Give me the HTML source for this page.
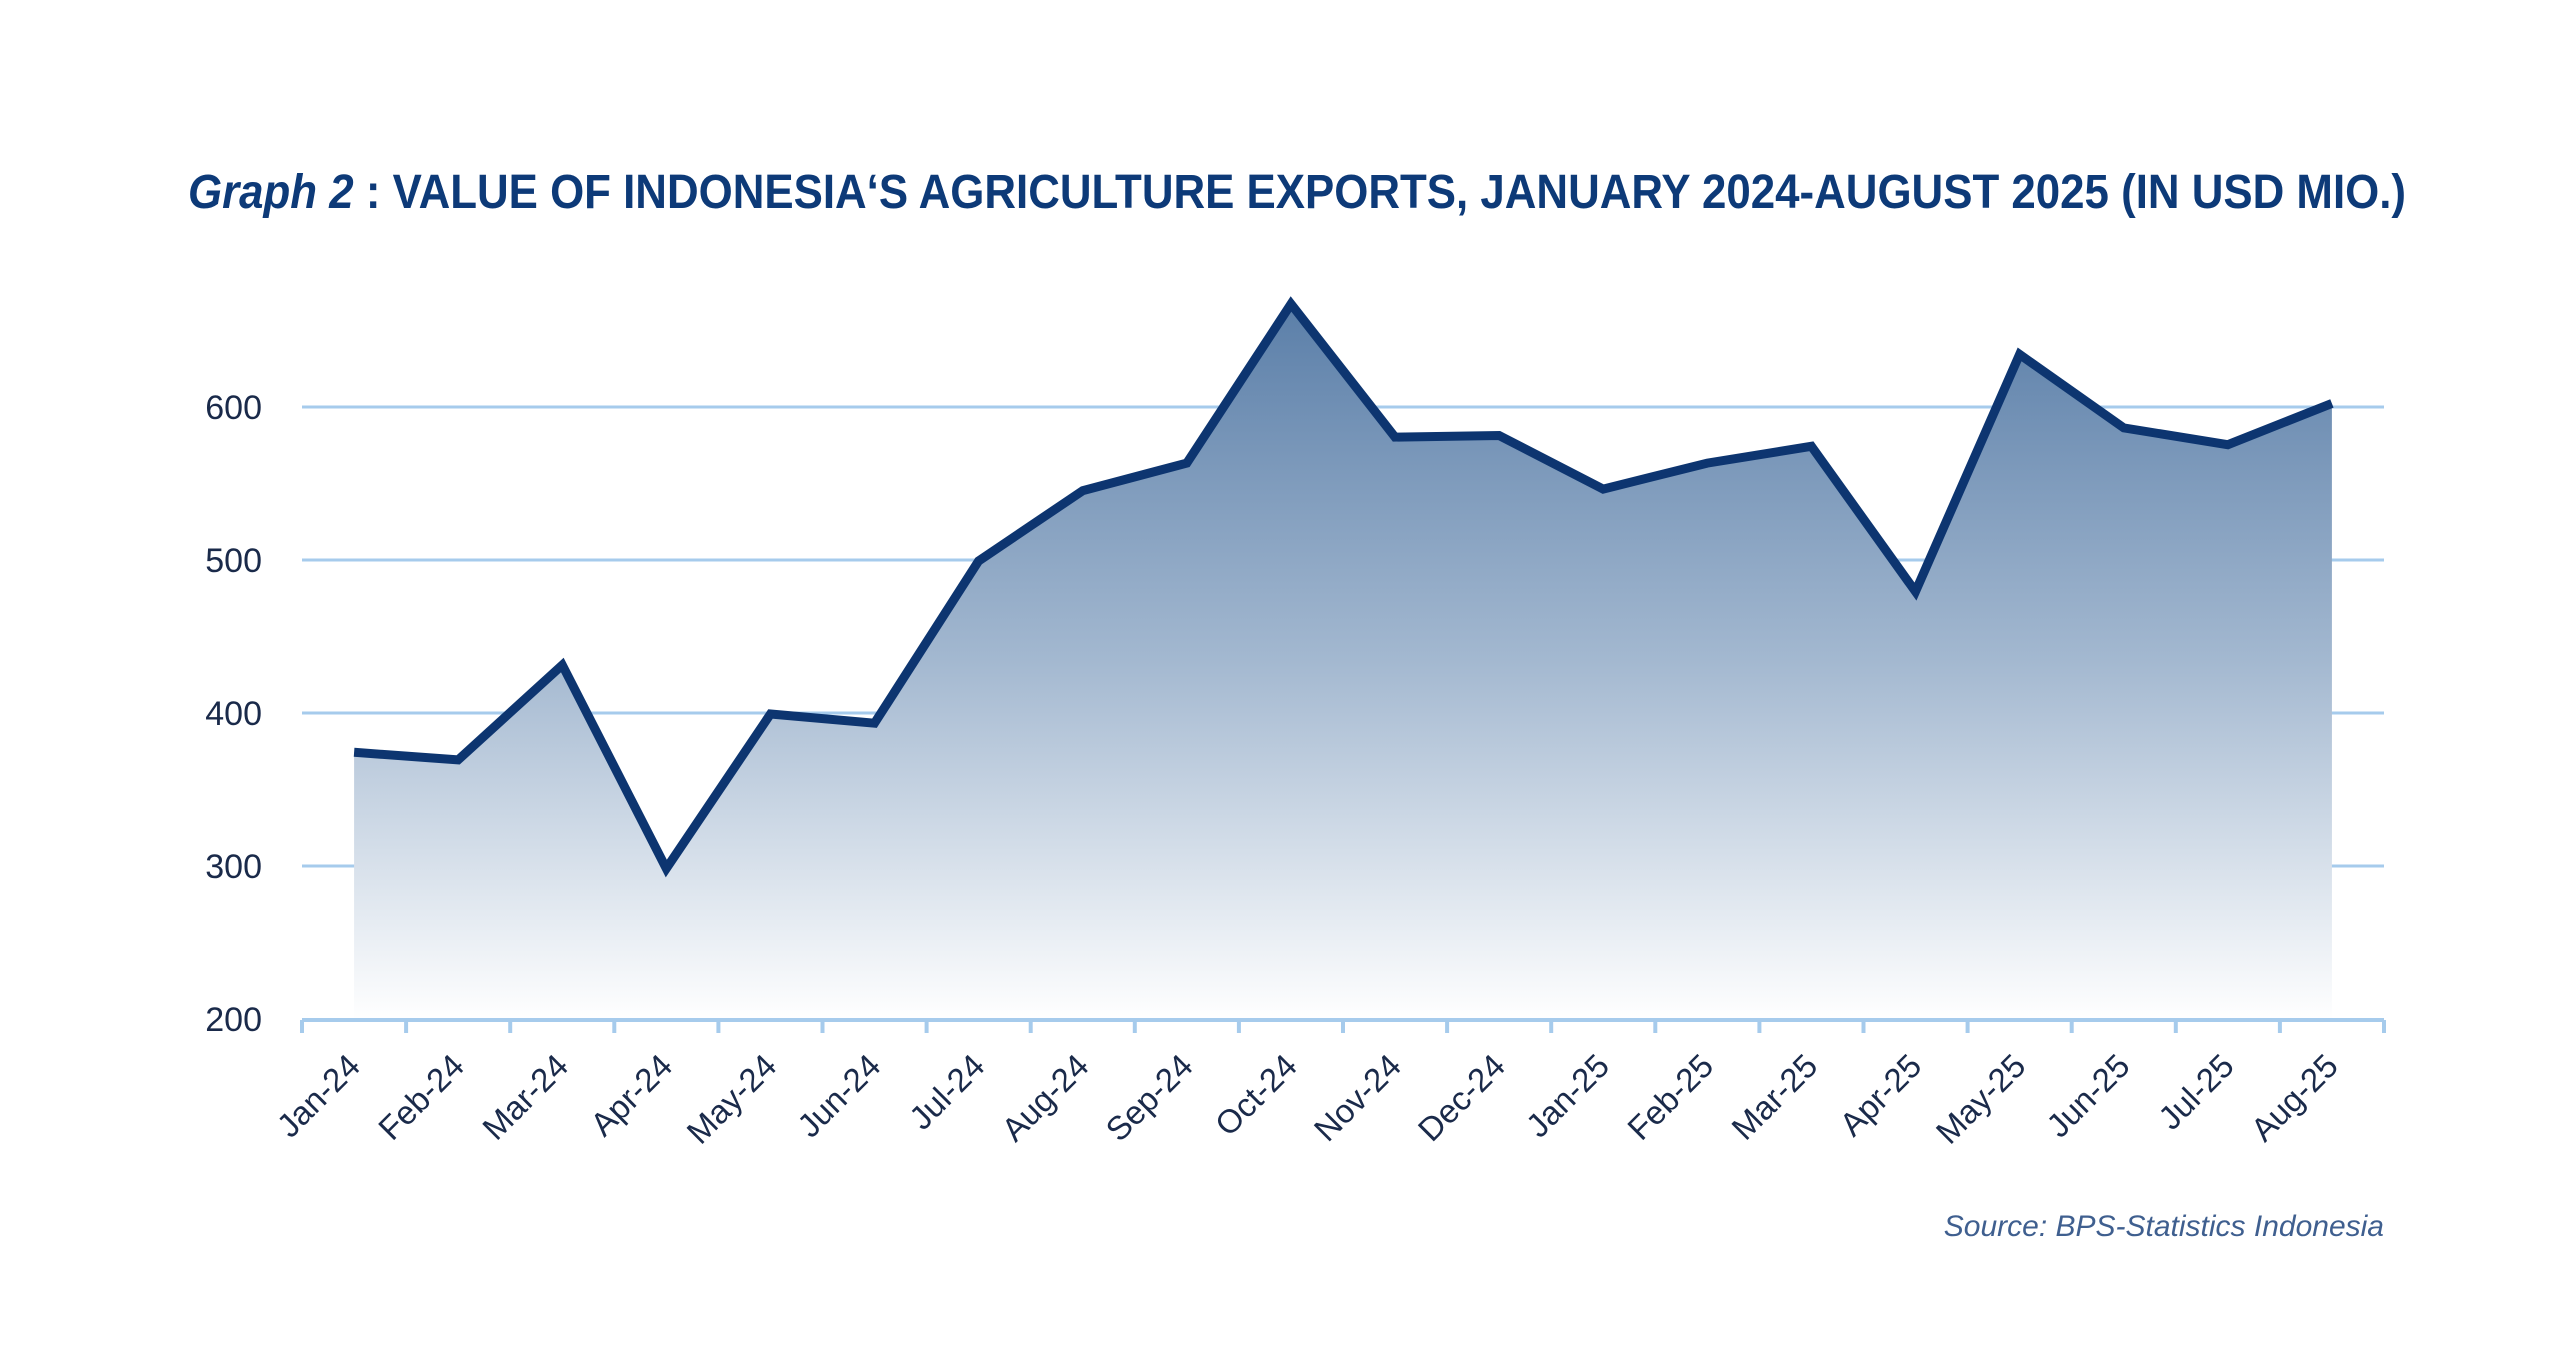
<!DOCTYPE html>
<html><head><meta charset="utf-8"><style>
html,body{margin:0;padding:0;background:#fff;}
svg{display:block;}
</style></head><body>
<svg width="2560" height="1365" viewBox="0 0 2560 1365" xmlns="http://www.w3.org/2000/svg">
<defs>
<linearGradient id="g" x1="0" y1="300" x2="0" y2="1020" gradientUnits="userSpaceOnUse">
<stop offset="0" stop-color="#5a7ea8"/>
<stop offset="0.5" stop-color="#a3b8d0"/>
<stop offset="1" stop-color="#ffffff"/>
</linearGradient>
</defs>
<text x="188" y="208" font-family="Liberation Sans Narrow, Liberation Sans, sans-serif" font-weight="bold" font-size="48" fill="#0d3a78" textLength="2218" lengthAdjust="spacingAndGlyphs"><tspan font-style="italic">Graph 2</tspan> : VALUE OF INDONESIA‘S AGRICULTURE EXPORTS, JANUARY 2024-AUGUST 2025 (IN USD MIO.)</text>
<g stroke="#a6cbec" stroke-width="3">
<line x1="302" y1="407" x2="2384" y2="407"/>
<line x1="302" y1="560" x2="2384" y2="560"/>
<line x1="302" y1="713" x2="2384" y2="713"/>
<line x1="302" y1="866" x2="2384" y2="866"/>
</g>
<g font-family="Liberation Sans, sans-serif" font-size="34" fill="#1a2a4a" text-anchor="end">
<text x="262" y="419">600</text>
<text x="262" y="572">500</text>
<text x="262" y="725">400</text>
<text x="262" y="878">300</text>
<text x="262" y="1031">200</text>
</g>
<g id="chart"></g>
<g stroke="#a6cbec" stroke-width="4" fill="none">
<line x1="302" y1="1020" x2="2384" y2="1020"/>
</g>
<g id="ticks" stroke="#a6cbec" stroke-width="4"></g>
<g id="labels" font-family="Liberation Sans, sans-serif" font-size="33" fill="#1a2a4a"></g>
<text x="2384" y="1236" text-anchor="end" font-family="Liberation Sans, sans-serif" font-style="italic" font-size="30" fill="#3f5f8f">Source: BPS-Statistics Indonesia</text>
</svg>
<script>
var v=[375,370,432,299,400,394,500,546,564,668,581,582,547,564,575,480,635,587,576,603];
var names=["Jan-24","Feb-24","Mar-24","Apr-24","May-24","Jun-24","Jul-24","Aug-24","Sep-24","Oct-24","Nov-24","Dec-24","Jan-25","Feb-25","Mar-25","Apr-25","May-25","Jun-25","Jul-25","Aug-25"];
var ns="http://www.w3.org/2000/svg";
var W=104.1;
function X(i){return 302+W/2+W*i;}
function Y(x){return 1020-(x-200)*1.53;}
var pts=v.map(function(x,i){return X(i).toFixed(1)+","+Y(x).toFixed(1);});
var area=document.createElementNS(ns,"polygon");
area.setAttribute("points",X(0)+",1018 "+pts.join(" ")+" "+X(19)+",1018");
area.setAttribute("fill","url(#g)");
var line=document.createElementNS(ns,"polyline");
line.setAttribute("points",pts.join(" "));
line.setAttribute("fill","none");line.setAttribute("stroke","#0d3570");
line.setAttribute("stroke-width","9");line.setAttribute("stroke-linejoin","miter");
var c=document.getElementById("chart");c.appendChild(area);c.appendChild(line);
var t=document.getElementById("ticks");
for(var i=0;i<=20;i++){var l=document.createElementNS(ns,"line");var x=302+W*i;
l.setAttribute("x1",x);l.setAttribute("x2",x);l.setAttribute("y1",1020);l.setAttribute("y2",1033);t.appendChild(l);}
var lb=document.getElementById("labels");
names.forEach(function(n,i){var e=document.createElementNS(ns,"text");var x=X(i)+8,y=1068;
e.setAttribute("x",x);e.setAttribute("y",y);e.setAttribute("text-anchor","end");
e.setAttribute("transform","rotate(-45 "+x+" "+y+")");e.textContent=n;lb.appendChild(e);});
</script>
</body></html>
